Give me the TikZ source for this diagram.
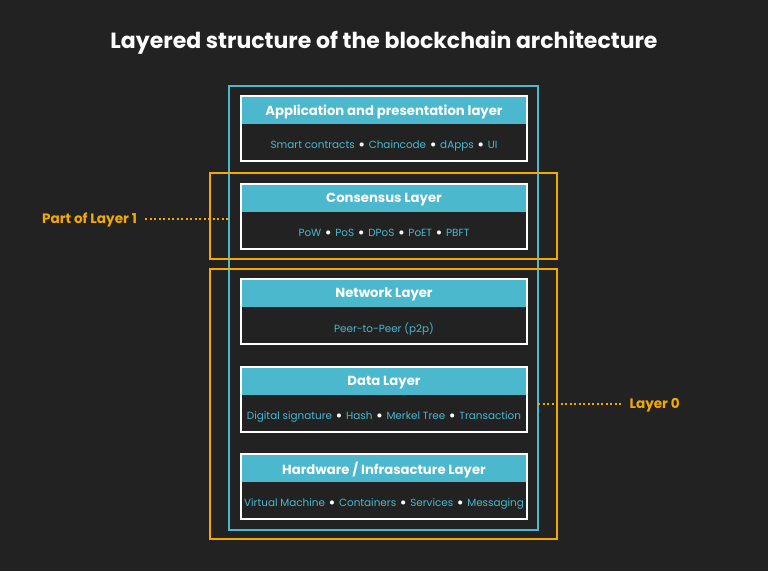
\documentclass[tikz,border=0pt]{standalone}
\usepackage{fontspec}
\setmainfont{Poppins}
\definecolor{bg}{HTML}{222222}
\definecolor{cy}{HTML}{4BB8CE}
\definecolor{og}{HTML}{F2A900}
\begin{document}
\begin{tikzpicture}[x=1pt,y=-1pt,
  layerbox/.style={draw=white,line width=1.3pt},
  head/.style={fill=cy},
  headtxt/.style={text=white,font=\fontsize{13.2}{15}\selectfont\bfseries},
  bodytxt/.style={text=cy,font=\fontsize{10.4}{12}\selectfont},
  grp/.style={draw=og,line width=1.1pt},
  lead/.style={draw=og,line width=1.1pt,dash pattern=on 2pt off 2.5pt},
  lbl/.style={text=og,font=\fontsize{13.6}{15}\selectfont\bfseries}]
\fill[bg] (0,0) rectangle (768,571);
\useasboundingbox (0,0) rectangle (768,571);
\node[text=white,font=\fontsize{22}{26}\selectfont\bfseries] (title) at (384,42.5) {Layered structure of the blockchain architecture};
% groups
\draw[draw=cy,line width=1.1pt] (229,86) rectangle (538,530);
\draw[grp] (210,173) rectangle (557,259);
\draw[grp] (210,269) rectangle (557,539);
\newcommand{\bul}{\hspace{3.6pt}\textcolor{white}{\raisebox{-0.19em}{\scalebox{1.6}{\textbullet}}}\hspace{3.6pt}}
\newcommand{\layer}[4]{%
  \fill[bg] (241,#1) rectangle (527,#1+65);
  \fill[head] (241,#1) rectangle (527,#1+28);
  \draw[layerbox] (241,#1) rectangle (527,#1+65);
  \node[headtxt] (#2h) at (384,#1+15.5) {#3};
  \node[bodytxt] (#2b) at (384,#1+49.5) {#4};
}
\layer{96}{app}{Application and presentation layer}{Smart contracts\bul Chaincode\bul dApps\bul UI}
\layer{184}{con}{Consensus Layer}{PoW\bul PoS\bul DPoS\bul PoET\bul PBFT}
\layer{279}{net}{Network Layer}{Peer-to-Peer (p2p)}
\layer{367}{dat}{Data Layer}{Digital signature\bul Hash\bul Merkel Tree\bul Transaction}
\layer{454}{hw}{Hardware / Infrasacture Layer}{Virtual Machine\bul Containers\bul Services\bul Messaging}
% labels
\node[lbl,anchor=east] (l1) at (140.5,220) {Part of Layer 1};
\coordinate (l1e) at (229,219);
\draw[lead] (145,219) -- (l1e);
\node[lbl,anchor=west] (l0) at (626,405) {Layer 0};
\coordinate (l0s) at (538,404);
\draw[lead] (l0s) -- (622,404);
\end{tikzpicture}
\end{document}
